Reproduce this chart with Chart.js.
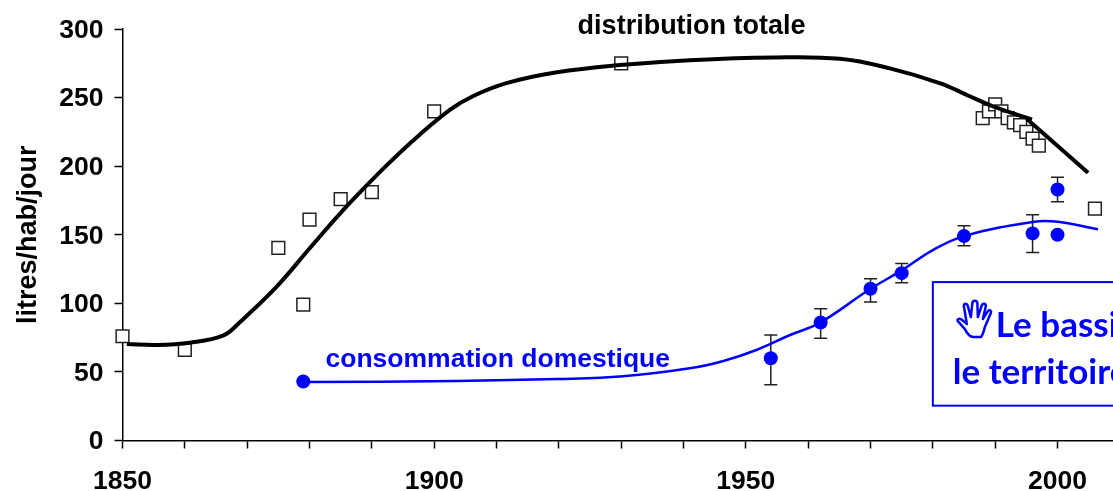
<!DOCTYPE html>
<html>
<head>
<meta charset="utf-8">
<title>Distribution et consommation d'eau</title>
<script src="https://cdn.jsdelivr.net/npm/chart.js@4/dist/chart.umd.min.js"></script>
<style>
  html, body { margin: 0; padding: 0; background: #fff; overflow: hidden; }
  canvas { display: block; }
</style>
</head>
<body>
<canvas id="water-chart" width="1113" height="491"></canvas>
<script>
// surveys, litres/person/day
const surveyYears = [1850, 1860, 1875, 1879, 1880, 1885, 1890, 1900, 1930, 1988, 1989, 1990, 1991, 1992, 1993, 1994, 1995, 1996, 1997, 2006];
const surveyValues = [76, 66, 140.5, 99, 161, 176, 181, 240, 275, 235, 240, 245, 240, 235, 232, 230, 225, 220, 215, 169];

// thick black trend, drawn in two pieces like the original
const totalYears = [1850.7, 1855.5, 1860.8, 1866.2, 1868.9, 1874.7, 1880, 1885.4, 1890.8, 1896.1, 1902.5, 1906.2, 1911.6, 1919.7, 1929.8, 1941, 1954.4, 1965.1, 1973.1, 1981.2, 1985.5, 1990, 1995.9];
const totalValues = [70.3, 69.6, 71.3, 76.7, 86.6, 112, 140, 168, 193.5, 216.6, 241, 251, 260.5, 268.4, 273.7, 277.3, 279.3, 278.3, 271.3, 260.4, 251.8, 243, 234];
const totalEndYears = [1995.1, 2004.9];
const totalEndValues = [234.3, 195.2];

// blue trend
const domesticTrendYears = [1879, 1903.6, 1919.7, 1930.3, 1941, 1946.4, 1951.7, 1957.1, 1961.9, 1970, 1975, 1980, 1985, 1996, 2000, 2006.5];
const domesticTrendValues = [42.6, 43.4, 44.8, 46.8, 52.6, 58, 66, 76.9, 85.9, 110.6, 124, 138.8, 149, 159.3, 159.5, 154];

// blue dots with their error bars (null = no bar)
const domesticYears = [1879, 1954, 1962, 1970, 1975, 1985, 1996, 2000, 2000];
const domesticValues = [43, 60, 86, 110.6, 122, 149, 151, 183, 150];
const domesticHigh = [null, 77, 96, 118, 129, 156.5, 164.5, 192, null];
const domesticLow = [null, 40.6, 74.5, 101, 115, 142, 137, 174, null];

const yTicks = [0, 50, 100, 150, 200, 250, 300];
const xLabelYears = [1850, 1900, 1950, 2000];

const BLUE = '#0000ff';
const toPoints = (xs, ys) => xs.map((x, i) => ({ x: x, y: ys[i] }));

const errorBars = {
  id: 'errorBars',
  beforeDatasetsDraw(chart) {
    const { ctx, scales } = chart;
    ctx.save();
    ctx.strokeStyle = '#222';
    ctx.lineWidth = 1.5;
    domesticYears.forEach((year, i) => {
      if (domesticHigh[i] === null) return;
      const x = scales.x.getPixelForValue(year);
      const top = scales.y.getPixelForValue(domesticHigh[i]);
      const bottom = scales.y.getPixelForValue(domesticLow[i]);
      ctx.beginPath();
      ctx.moveTo(x, top);
      ctx.lineTo(x, bottom);
      ctx.moveTo(x - 6.5, top);
      ctx.lineTo(x + 6.5, top);
      ctx.moveTo(x - 6.5, bottom);
      ctx.lineTo(x + 6.5, bottom);
      ctx.stroke();
    });
    ctx.restore();
  }
};

// series names and the cut-off note box on the right
const annotations = {
  id: 'annotations',
  afterDraw(chart) {
    const { ctx, scales } = chart;
    const px = v => scales.x.getPixelForValue(v);
    const py = v => scales.y.getPixelForValue(v);
    ctx.save();

    ctx.textBaseline = 'alphabetic';
    ctx.textAlign = 'center';
    ctx.font = 'bold 27px "Liberation Sans"';
    ctx.fillStyle = '#000';
    ctx.fillText('distribution totale', px(1941.3), py(296.5));
    ctx.font = 'bold 26.5px "Liberation Sans"';
    ctx.fillStyle = BLUE;
    ctx.fillText('consommation domestique', px(1910.2), py(53.8));

    // note box runs past the edge of the picture
    const left = px(1980);
    const top = py(115.5);
    const bottom = py(25.4);
    ctx.fillStyle = '#fff';
    ctx.strokeStyle = BLUE;
    ctx.lineWidth = 2;
    ctx.fillRect(left, top, 300, bottom - top);
    ctx.strokeRect(left, top, 300, bottom - top);

    ctx.textAlign = 'left';
    ctx.font = 'bold 35px Lato';
    ctx.fillStyle = BLUE;
    ctx.fillText('Le bassin', left + 63, top + 55);
    ctx.fillText('le territoire', left + 20, top + 102);

    ctx.translate(left + 24, top + 18);
    const hand = new Path2D('M16 37C12 36 10 33 8 29L1 21C0 19 2 18 4 19L10 24L7 6C7 3 10 3 11 6L14 17L15.5 3C16 0 20 0 20.5 3L21 17L25 5C26 3 29 3 29 6L26 19L31 11C33 9 35 11 34 13L28 27C27 31 26 35 24 37Z');
    ctx.fillStyle = '#fff';
    ctx.fill(hand);
    ctx.lineWidth = 2.5;
    ctx.lineJoin = 'round';
    ctx.stroke(hand);

    ctx.restore();
  }
};

new Chart(document.getElementById('water-chart').getContext('2d'), {
  type: 'scatter',
  data: {
    datasets: [
      {
        label: 'distribution totale',
        data: toPoints(totalYears, totalValues),
        showLine: true,
        borderColor: '#000',
        borderWidth: 4,
        tension: 0.4,
        pointRadius: 0,
        order: 1,
      },
      {
        label: 'distribution totale (fin)',
        data: toPoints(totalEndYears, totalEndValues),
        showLine: true,
        borderColor: '#000',
        borderWidth: 4,
        pointRadius: 0,
        order: 1,
      },
      {
        label: 'relevés',
        data: toPoints(surveyYears, surveyValues),
        pointStyle: 'rect',
        pointRadius: 9,
        pointBackgroundColor: '#fff',
        pointBorderColor: '#222',
        pointBorderWidth: 1.5,
        order: 2,
      },
      {
        label: 'consommation domestique',
        data: toPoints(domesticYears, domesticValues),
        pointRadius: 7,
        pointBackgroundColor: BLUE,
        pointBorderColor: BLUE,
        pointBorderWidth: 0,
        order: 0,
      },
      {
        label: 'consommation domestique (tendance)',
        data: toPoints(domesticTrendYears, domesticTrendValues),
        showLine: true,
        borderColor: BLUE,
        borderWidth: 2.5,
        tension: 0.4,
        pointRadius: 0,
        order: 1,
      },
    ],
  },
  options: {
    responsive: false,
    animation: false,
    clip: false,
    layout: { autoPadding: false, padding: { top: 29, right: 0, bottom: 0, left: 0 } },
    plugins: { legend: { display: false }, tooltip: { enabled: false } },
    scales: {
      x: {
        type: 'linear',
        min: 1850,
        max: 2008.9,
        afterFit: scale => {
          scale.height = 50.5;
          scale.paddingLeft = 0;
          scale.paddingRight = 0;
        },
        border: { color: '#000', width: 1.5 },
        grid: { drawOnChartArea: false, tickLength: 8, tickColor: '#000', tickWidth: 1.5 },
        ticks: {
          stepSize: 10,
          includeBounds: false,
          autoSkip: false,
          maxRotation: 0,
          padding: 17,
          color: '#000',
          font: { family: 'Liberation Sans', size: 26.5, weight: 'bold' },
          callback: value => (xLabelYears.includes(value) ? String(value) : ''),
        },
      },
      y: {
        min: 0,
        max: 300,
        afterFit: scale => { scale.width = 122.5; },
        afterBuildTicks: scale => { scale.ticks = yTicks.map(v => ({ value: v })); },
        border: { color: '#000', width: 1.5 },
        grid: { drawOnChartArea: false, tickLength: 8, tickColor: '#000', tickWidth: 1.5 },
        title: {
          display: true,
          text: 'litres/hab/jour',
          color: '#000',
          font: { family: 'Liberation Sans', size: 27, weight: 'bold' },
          padding: { top: 12, bottom: 0 },
        },
        ticks: {
          padding: 11,
          labelOffset: 1.5,
          color: '#000',
          font: { family: 'Liberation Sans', size: 26.5, weight: 'bold' },
        },
      },
    },
  },
  plugins: [errorBars, annotations],
});
</script>
</body>
</html>
